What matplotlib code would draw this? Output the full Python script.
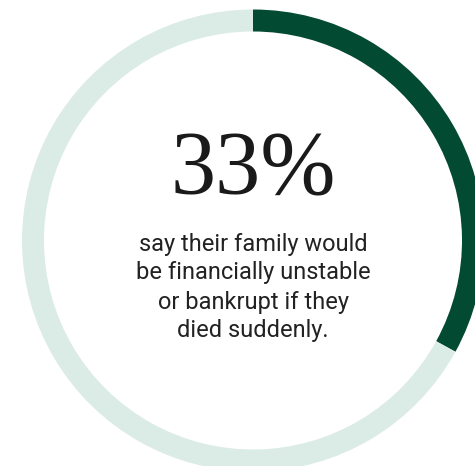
import matplotlib.pyplot as plt

# share of respondents
share = [33, 67]
colors = ["#034A33", "#DBEBE6"]
big_label = "33%"
caption = ["say their family would", "be financially unstable", "or bankrupt if they", "died suddenly."]

W, H = 475, 466
fig = plt.figure(figsize=(W / 100, H / 100), dpi=100)
ax = fig.add_axes([0, 0, 1, 1])

cx, cy = 253, H - 240.5
ax.pie(share, colors=colors, startangle=90, counterclock=False,
       center=(cx, cy), radius=231,
       wedgeprops=dict(width=22, linewidth=0))

ax.set_xlim(0, W)
ax.set_ylim(0, H)
ax.set_aspect("equal")
ax.axis("off")

ax.text(cx, H - 172, big_label, ha="center", va="center",
        fontsize=65, family="Liberation Serif", color="#1a1a1a")
for i, line in enumerate(caption):
    ax.text(cx, H - (244 + i * 29), line, ha="center", va="center",
            fontsize=17, family="Roboto", color="#222222")

fig.savefig("out.png", dpi=100)
